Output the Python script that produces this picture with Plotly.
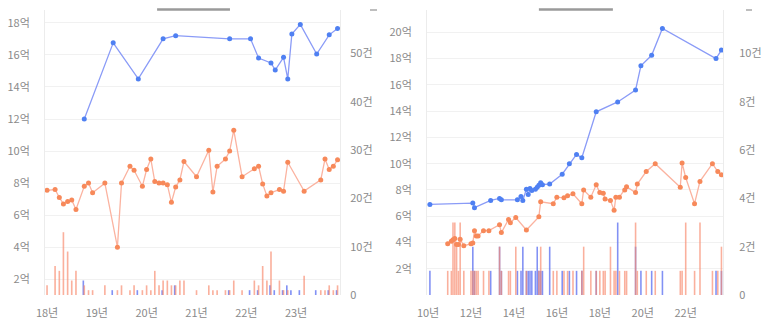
import plotly.graph_objects as go

# ---------------- Left panel data ----------------
L_BLUE_DATES = ["2018-10-01", "2019-05-01", "2019-11-01", "2020-05-01", "2020-08-01", "2021-09-01",
                "2022-02-01", "2022-04-01", "2022-07-01", "2022-08-01", "2022-10-01", "2022-11-01",
                "2022-12-01", "2023-02-01", "2023-06-01", "2023-09-01", "2023-11-01"]
L_BLUE_PRICE = [12.0, 16.75, 14.5, 17.0, 17.2, 17.0, 17.0, 15.8, 15.5, 15.05, 15.85, 14.5,
                17.3, 17.9, 16.05, 17.25, 17.65]
L_BLUE_COUNT = [3, 1, 1, 1, 2, 1, 1, 1, 2, 1, 1, 2, 1, 1, 1, 1, 1]

L_ORANGE_DATES = ["2018-01-01", "2018-03-01", "2018-04-01", "2018-05-01", "2018-06-01", "2018-07-01",
                  "2018-08-01", "2018-10-01", "2018-11-01", "2018-12-01", "2019-03-01", "2019-06-01",
                  "2019-07-01", "2019-09-01", "2019-10-01", "2019-12-01", "2020-01-01", "2020-02-01",
                  "2020-03-01", "2020-04-01", "2020-05-01", "2020-06-01", "2020-07-01", "2020-08-01",
                  "2020-09-01", "2020-10-01", "2021-01-01", "2021-04-01", "2021-05-01", "2021-06-01",
                  "2021-08-01", "2021-09-01", "2021-10-01", "2021-12-01", "2022-03-01", "2022-04-01",
                  "2022-05-01", "2022-06-01", "2022-07-01", "2022-09-01", "2022-10-01", "2022-11-01",
                  "2023-03-01", "2023-07-01", "2023-08-01", "2023-09-01", "2023-10-01", "2023-11-01"]
L_ORANGE_PRICE = [7.55, 7.6, 7.1, 6.7, 6.85, 6.95, 6.35, 7.8, 8.0, 7.4, 8.0, 4.0,
                  8.0, 9.05, 8.8, 7.8, 8.85, 9.5, 8.1, 8.0, 8.0, 7.9, 6.8, 7.75,
                  8.2, 9.35, 8.4, 10.05, 7.45, 9.05, 9.5, 10.0, 11.3, 8.4, 8.9, 9.05,
                  7.95, 7.2, 7.4, 7.6, 7.5, 9.3, 7.5, 8.2, 9.5, 8.85, 9.05, 9.45]
L_ORANGE_COUNT = [2, 6, 5, 13, 9, 3, 5, 2, 1, 1, 2, 1,
                  2, 1, 2, 1, 2, 1, 5, 2, 3, 3, 2, 2,
                  3, 3, 1, 2, 1, 1, 1, 1, 3, 1, 3, 2,
                  6, 3, 9, 3, 1, 1, 4, 1, 1, 2, 1, 2]

# ---------------- Right panel data ----------------
R_BLUE_DATES = ["2010-02-01", "2012-02-01", "2012-03-01", "2012-12-01", "2013-05-01", "2013-06-01",
                "2014-03-01", "2014-05-01", "2014-06-01", "2014-08-01", "2014-09-01", "2014-10-01",
                "2014-11-01", "2015-01-01", "2015-02-01", "2015-03-01", "2015-04-01", "2015-05-01",
                "2015-09-01", "2016-04-01", "2016-08-01", "2016-12-01", "2017-03-01", "2017-11-01",
                "2018-11-01", "2019-09-01", "2019-12-01", "2020-06-01", "2020-12-01", "2023-06-01",
                "2023-09-01"]
R_BLUE_PRICE = [6.9, 7.0, 6.65, 7.2, 7.35, 7.25, 7.25, 7.5, 7.2, 8.05, 7.65, 8.1,
                7.95, 8.05, 8.2, 8.35, 8.55, 8.4, 8.45, 9.2, 10.0, 10.7, 10.45, 13.95,
                14.7, 15.6, 17.45, 18.25, 20.3, 18.0, 18.65]
R_BLUE_COUNT = [1, 2, 1, 1, 2, 1, 1, 1, 2, 1, 1, 1,
                1, 1, 2, 1, 1, 1, 2, 1, 1, 1, 1, 1,
                3, 2, 1, 1, 1, 1, 1]

R_ORANGE_DATES = ["2010-12-01", "2011-02-01", "2011-03-01", "2011-04-01", "2011-05-01", "2011-06-01",
                  "2011-07-01", "2011-09-01", "2012-01-01", "2012-02-01", "2012-03-01", "2012-04-01",
                  "2012-05-01", "2012-08-01", "2012-11-01", "2013-05-01", "2013-06-01", "2013-10-01",
                  "2013-11-01", "2014-02-01", "2014-08-01", "2015-03-01", "2015-04-01", "2015-11-01",
                  "2016-01-01", "2016-05-01", "2016-07-01", "2016-10-01", "2017-03-01", "2017-04-01",
                  "2017-08-01", "2017-11-01", "2018-01-01", "2018-03-01", "2018-04-01", "2018-07-01",
                  "2018-09-01", "2018-10-01", "2018-12-01", "2019-03-01", "2019-04-01", "2019-09-01",
                  "2019-10-01", "2020-03-01", "2020-08-01", "2021-10-01", "2021-11-01", "2022-01-01",
                  "2022-06-01", "2022-09-01", "2023-04-01", "2023-07-01", "2023-09-01"]
R_ORANGE_PRICE = [3.9, 4.1, 4.2, 4.3, 3.85, 3.85, 4.25, 3.75, 3.9, 3.95, 4.9, 4.5,
                  4.5, 4.9, 4.9, 5.35, 4.75, 5.75, 5.5, 5.9, 4.95, 5.95, 7.1, 6.95,
                  7.45, 7.4, 7.55, 7.7, 6.95, 8.0, 7.45, 8.4, 7.8, 7.75, 7.3, 7.2,
                  6.45, 7.45, 7.45, 8.0, 8.25, 7.8, 8.45, 9.4, 10.0, 8.2, 10.05, 8.95,
                  6.95, 8.65, 10.0, 9.4, 9.15]
R_ORANGE_COUNT = [1, 1, 3, 3, 2, 1, 3, 1, 1, 1, 1, 1,
                  1, 1, 1, 2, 1, 1, 1, 2, 1, 1, 2, 1,
                  1, 1, 1, 1, 1, 2, 1, 1, 1, 1, 1, 2,
                  1, 1, 1, 1, 1, 3, 1, 1, 1, 1, 1, 3,
                  1, 3, 1, 1, 2]

L_PRICE_TICKS = [2, 4, 6, 8, 10, 12, 14, 16, 18]
R_PRICE_TICKS = [2, 4, 6, 8, 10, 12, 14, 16, 18, 20]
L_COUNT_TICKS = [0, 10, 20, 30, 40, 50]
R_COUNT_TICKS = [0, 2, 4, 6, 8, 10]

# ---------------- Styles ----------------
BLUE_LINE = "#8a9bf7"
BLUE_MARK = "#4f80f2"
ORANGE_LINE = "#fbb3a0"
ORANGE_MARK = "#f7895a"
BLUE_BAR = "rgba(88,108,240,0.75)"
ORANGE_BAR = "rgba(248,138,110,0.68)"
TXT = "#8a8a8a"
FONT = "Noto Sans CJK KR"
DAY = 86400000

fig = go.Figure()

# Left panel bars (count axis y, lines on y2)
fig.add_bar(x=L_BLUE_DATES, y=L_BLUE_COUNT, xaxis="x", yaxis="y", marker_color=BLUE_BAR,
            marker_line_width=0, width=12 * DAY, offset=-13 * DAY, showlegend=False)
fig.add_bar(x=L_ORANGE_DATES, y=L_ORANGE_COUNT, xaxis="x", yaxis="y", marker_color=ORANGE_BAR,
            marker_line_width=0, width=12 * DAY, offset=-6 * DAY, showlegend=False)
fig.add_scatter(x=L_ORANGE_DATES, y=L_ORANGE_PRICE, xaxis="x", yaxis="y2", mode="lines+markers",
                line=dict(color=ORANGE_LINE, width=1.3), marker=dict(color=ORANGE_MARK, size=5),
                showlegend=False)
fig.add_scatter(x=L_BLUE_DATES, y=L_BLUE_PRICE, xaxis="x", yaxis="y2", mode="lines+markers",
                line=dict(color=BLUE_LINE, width=1.3), marker=dict(color=BLUE_MARK, size=5),
                showlegend=False)

# Right panel
fig.add_bar(x=R_BLUE_DATES, y=R_BLUE_COUNT, xaxis="x2", yaxis="y3", marker_color=BLUE_BAR,
            marker_line_width=0, width=27 * DAY, offset=-13 * DAY, showlegend=False)
fig.add_bar(x=R_ORANGE_DATES, y=R_ORANGE_COUNT, xaxis="x2", yaxis="y3", marker_color=ORANGE_BAR,
            marker_line_width=0, width=27 * DAY, offset=-13 * DAY, showlegend=False)
fig.add_scatter(x=R_ORANGE_DATES, y=R_ORANGE_PRICE, xaxis="x2", yaxis="y4", mode="lines+markers",
                line=dict(color=ORANGE_LINE, width=1.3), marker=dict(color=ORANGE_MARK, size=5),
                showlegend=False)
fig.add_scatter(x=R_BLUE_DATES, y=R_BLUE_PRICE, xaxis="x2", yaxis="y4", mode="lines+markers",
                line=dict(color=BLUE_LINE, width=1.3), marker=dict(color=BLUE_MARK, size=5),
                showlegend=False)

W, H = 769, 327
LD = [45 / W, 340 / W]
RD = [427 / W, 723 / W]
tickfont = dict(family=FONT, size=11, color=TXT)

def xax(domain, rng, dtick, tick0, anchor):
    return dict(domain=domain, type="date", range=rng, dtick=dtick, tick0=tick0,
                tickformat="%y년", showgrid=False, zeroline=False, showline=False,
                ticks="", tickfont=tickfont, ticklabelstandoff=10, anchor=anchor,
                automargin=False, fixedrange=True)

def countax(rng, ticks, anchor_x, standoff):
    return dict(anchor=anchor_x, side="right", range=rng, tickvals=ticks,
                ticktext=[("0" if t == 0 else f"{t}건") for t in ticks], showgrid=False,
                zeroline=False, showline=True, linecolor="#ececec", linewidth=1,
                ticks="", tickfont=tickfont, ticklabelstandoff=standoff, automargin=False)

def priceax(rng, ticks, anchor_x, overlay):
    return dict(anchor=anchor_x, overlaying=overlay, side="left", range=rng, tickvals=ticks,
                ticktext=[f"{t}억" for t in ticks], showgrid=True, gridcolor="#f1f1f1",
                gridwidth=1, zeroline=False, showline=True, linecolor="#ececec", linewidth=1,
                ticks="", tickfont=tickfont, ticklabelstandoff=12, automargin=False)

fig.update_layout(
    template="none",
    width=W, height=H,
    margin=dict(l=0, r=0, t=10, b=32, autoexpand=False),
    paper_bgcolor="white", plot_bgcolor="white",
    barmode="overlay", showlegend=False,
    xaxis=xax(LD, ["2017-12-17", "2023-11-19"], "M12", "2018-01-01", "y"),
    yaxis=countax([0, 59], L_COUNT_TICKS, "x", 7),
    yaxis2=priceax([1.02, 18.8], L_PRICE_TICKS, "x", "y"),
    xaxis2=xax(RD, ["2009-12-14", "2023-09-28"], "M24", "2010-01-01", "y3"),
    yaxis3=countax([0, 11.8], R_COUNT_TICKS, "x2", 13),
    yaxis4=priceax([0, 21.7], R_PRICE_TICKS, "x2", "y3"),
)

# top scroll-indicator bars and clipped top tick marks
for xr, x0, x1 in [("x domain", 0.38, 0.627), ("x2 domain", 0.378, 0.628)]:
    fig.add_shape(type="line", xref=xr, yref="paper", x0=x0, x1=x1, y0=1.002, y1=1.002,
                  line=dict(color="#9a9a9a", width=2.5))
for x0, x1 in [(370, 377), (746, 752)]:
    fig.add_shape(type="line", xref="paper", yref="paper", x0=x0 / W, x1=x1 / W,
                  y0=1.0, y1=1.0, line=dict(color="#a8a8a8", width=1.5))

fig.write_html("out.html")
